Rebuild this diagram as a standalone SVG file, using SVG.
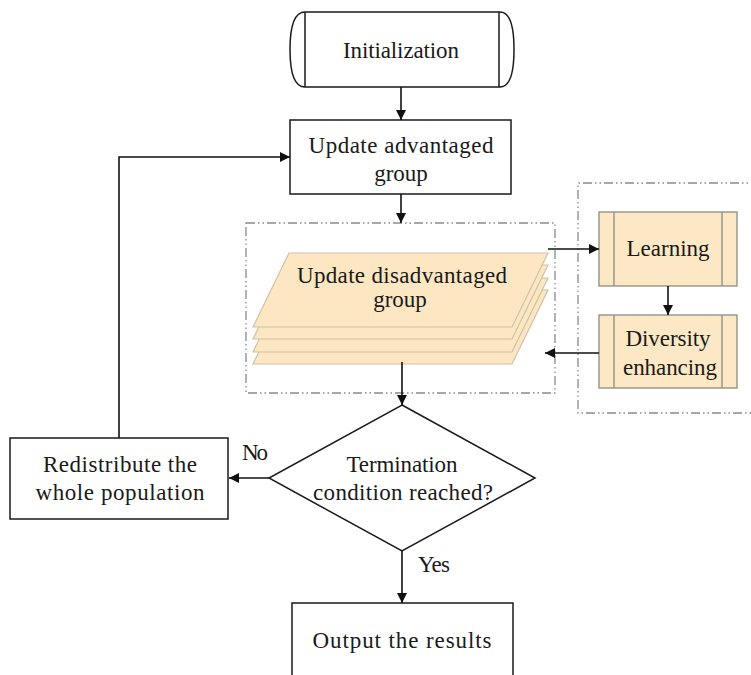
<svg xmlns="http://www.w3.org/2000/svg" width="751" height="675" viewBox="0 0 751 675">
<style>
text{font-family:'Liberation Serif','DejaVu Serif',serif;font-size:23px;fill:#1a1a1a;text-anchor:middle}
.box{fill:#fff;stroke:#1a1a1a;stroke-width:1.5}
.sub{fill:#fce8c4;stroke:#8c8c80;stroke-width:1.3}
.par{fill:#fce7c2;stroke:#cfc2a6;stroke-width:1.2}
.dash{fill:none;stroke:#8a8a8a;stroke-width:1.3;stroke-dasharray:9 3 1.5 3 1.5 3}
.ln{fill:none;stroke:#111;stroke-width:1.6}
</style>
<defs>
<marker id="ah" viewBox="0 0 10 10" refX="10" refY="5" markerWidth="11" markerHeight="10" markerUnits="userSpaceOnUse" orient="auto">
<path d="M0,0 L10,5 L0,10 z" fill="#111"/>
</marker>
</defs>

<g id="groups">
<rect class="dash" x="246" y="223" width="309" height="170"/>
<path class="dash" d="M760,183 H578 V413 H760"/>
</g>

<g font-family="Liberation Serif, DejaVu Serif, serif">
<g id="init">
<path class="box" d="M305,12 H500 Q514,12 514,49.5 Q514,87 500,87 H305 Q290,87 290,49.5 Q290,12 305,12 Z"/>
<line class="box" x1="305" y1="12" x2="305" y2="87"/>
<line class="box" x1="499" y1="12" x2="499" y2="87"/>
<text x="401" y="58" textLength="116">Initialization</text>
</g>

<g id="adv">
<rect class="box" x="290" y="120" width="221" height="74"/>
<text x="401" y="153" textLength="185" lengthAdjust="spacing">Update advantaged</text>
<text x="401" y="181">group</text>
</g>

<g id="disadv">
<polygon class="par" points="289,290 548,290 512,364 253,364"/>
<polygon class="par" points="289,278 548,278 512,352 253,352"/>
<polygon class="par" points="289,265 548,265 512,339 253,339"/>
<polygon class="par" points="289,253 548,253 512,327 253,327"/>
<text x="402" y="283" textLength="210" lengthAdjust="spacing">Update disadvantaged</text>
<text x="400" y="307">group</text>
</g>

<g id="learning">
<rect class="sub" x="599" y="212" width="138" height="74"/>
<line class="sub" x1="614" y1="212" x2="614" y2="286"/>
<line class="sub" x1="722" y1="212" x2="722" y2="286"/>
<text x="668" y="256" textLength="83">Learning</text>
</g>

<g id="diversity">
<rect class="sub" x="599" y="315" width="138" height="73"/>
<line class="sub" x1="614" y1="315" x2="614" y2="388"/>
<line class="sub" x1="722" y1="315" x2="722" y2="388"/>
<text x="668" y="346" textLength="85">Diversity</text>
<text x="670" y="375" textLength="94">enhancing</text>
</g>

<g id="decision">
<polygon class="box" points="402,405 535,478 402,551 269,478"/>
<text x="402" y="472" textLength="111">Termination</text>
<text x="403" y="500" textLength="180" lengthAdjust="spacing">condition reached?</text>
</g>

<g id="redistribute">
<rect class="box" x="10" y="438" width="218" height="81"/>
<text x="120" y="472" textLength="154" lengthAdjust="spacing">Redistribute the</text>
<text x="120" y="500" textLength="169" lengthAdjust="spacing">whole population</text>
</g>

<g id="output">
<rect class="box" x="292" y="603" width="221" height="90"/>
<text x="402" y="648" textLength="179" lengthAdjust="spacing">Output the results</text>
</g>

<g id="connectors">
<line class="ln" x1="401" y1="87" x2="401" y2="120" marker-end="url(#ah)"/>
<line class="ln" x1="401" y1="194" x2="401" y2="223" marker-end="url(#ah)"/>
<line class="ln" x1="548" y1="249" x2="599" y2="249" marker-end="url(#ah)"/>
<line class="ln" x1="668" y1="286" x2="668" y2="315" marker-end="url(#ah)"/>
<line class="ln" x1="599" y1="353" x2="545" y2="353" marker-end="url(#ah)"/>
<line class="ln" x1="402" y1="362" x2="402" y2="405" marker-end="url(#ah)"/>
<polyline class="ln" points="269,478 229,478" marker-end="url(#ah)"/>
<polyline class="ln" points="119,438 119,157 290,157" marker-end="url(#ah)"/>
<line class="ln" x1="402" y1="551" x2="402" y2="603" marker-end="url(#ah)"/>
<text x="255" y="460" textLength="26">No</text>
<text x="434" y="572" textLength="32">Yes</text>
</g>
</g>
</svg>
